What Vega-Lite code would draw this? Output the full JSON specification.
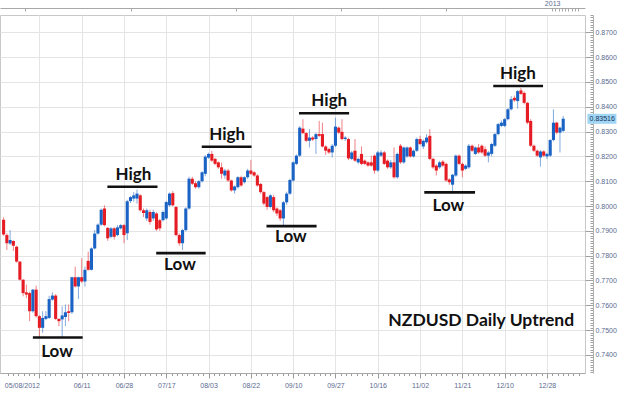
{
  "$schema": "https://vega.github.io/schema/vega-lite/v6.json",
  "width": 585,
  "height": 358,
  "autosize": {"type": "none"},
  "padding": {"left": 0, "top": 15, "right": 39, "bottom": 20},
  "background": "white",
  "config": {"view": {"stroke": "#c8c8c8", "strokeWidth": 1}},
  "datasets": {
    "candles": [
      {"i":0,"o":0.7945,"h":0.7955,"l":0.7880,"c":0.7885},
      {"i":1,"o":0.7883,"h":0.7890,"l":0.7823,"c":0.7850},
      {"i":2,"o":0.7849,"h":0.7903,"l":0.7843,"c":0.7863},
      {"i":3,"o":0.7859,"h":0.7862,"l":0.7819,"c":0.7840},
      {"i":4,"o":0.7836,"h":0.7840,"l":0.7772,"c":0.7776},
      {"i":5,"o":0.7776,"h":0.7778,"l":0.7700,"c":0.7703},
      {"i":6,"o":0.7703,"h":0.7705,"l":0.7636,"c":0.7649},
      {"i":7,"o":0.7652,"h":0.7683,"l":0.7629,"c":0.7643},
      {"i":8,"o":0.7649,"h":0.7655,"l":0.7536,"c":0.7576},
      {"i":9,"o":0.7576,"h":0.7665,"l":0.7570,"c":0.7663},
      {"i":10,"o":0.7663,"h":0.7679,"l":0.7550,"c":0.7556},
      {"i":11,"o":0.7556,"h":0.7560,"l":0.7469,"c":0.7509},
      {"i":12,"o":0.7509,"h":0.7576,"l":0.7489,"c":0.7549},
      {"i":13,"o":0.7545,"h":0.7576,"l":0.7540,"c":0.7556},
      {"i":14,"o":0.7549,"h":0.7638,"l":0.7545,"c":0.7625},
      {"i":15,"o":0.7623,"h":0.7652,"l":0.7618,"c":0.7639},
      {"i":16,"o":0.7639,"h":0.7645,"l":0.7540,"c":0.7545},
      {"i":17,"o":0.7545,"h":0.7548,"l":0.7516,"c":0.7536},
      {"i":18,"o":0.7543,"h":0.7596,"l":0.7469,"c":0.7559},
      {"i":19,"o":0.7553,"h":0.7603,"l":0.7516,"c":0.7572},
      {"i":20,"o":0.7576,"h":0.7603,"l":0.7536,"c":0.7569},
      {"i":21,"o":0.7572,"h":0.7715,"l":0.7565,"c":0.7713},
      {"i":22,"o":0.7713,"h":0.7756,"l":0.7672,"c":0.7676},
      {"i":23,"o":0.7676,"h":0.7716,"l":0.7625,"c":0.7713},
      {"i":24,"o":0.7713,"h":0.7789,"l":0.7690,"c":0.7696},
      {"i":25,"o":0.7696,"h":0.7756,"l":0.7676,"c":0.7743},
      {"i":26,"o":0.7779,"h":0.7816,"l":0.7740,"c":0.7743},
      {"i":27,"o":0.7743,"h":0.7833,"l":0.7740,"c":0.7829},
      {"i":28,"o":0.7829,"h":0.7903,"l":0.7825,"c":0.7889},
      {"i":29,"o":0.7889,"h":0.7930,"l":0.7885,"c":0.7925},
      {"i":30,"o":0.7925,"h":0.7990,"l":0.7920,"c":0.7985},
      {"i":31,"o":0.7990,"h":0.8003,"l":0.7918,"c":0.7923},
      {"i":32,"o":0.7912,"h":0.7915,"l":0.7860,"c":0.7870},
      {"i":33,"o":0.7876,"h":0.7915,"l":0.7870,"c":0.7910},
      {"i":34,"o":0.7910,"h":0.7915,"l":0.7865,"c":0.7876},
      {"i":35,"o":0.7883,"h":0.7923,"l":0.7878,"c":0.7914},
      {"i":36,"o":0.7910,"h":0.7928,"l":0.7905,"c":0.7923},
      {"i":37,"o":0.7923,"h":0.7928,"l":0.7850,"c":0.7883},
      {"i":38,"o":0.7890,"h":0.8025,"l":0.7863,"c":0.8019},
      {"i":39,"o":0.8020,"h":0.8040,"l":0.8012,"c":0.8036},
      {"i":40,"o":0.8030,"h":0.8056,"l":0.8018,"c":0.8043},
      {"i":41,"o":0.8030,"h":0.8066,"l":0.8010,"c":0.8050},
      {"i":42,"o":0.8043,"h":0.8048,"l":0.7978,"c":0.7983},
      {"i":43,"o":0.7983,"h":0.7990,"l":0.7956,"c":0.7972},
      {"i":44,"o":0.7950,"h":0.7990,"l":0.7940,"c":0.7983},
      {"i":45,"o":0.7976,"h":0.7985,"l":0.7925,"c":0.7936},
      {"i":46,"o":0.7950,"h":0.7985,"l":0.7940,"c":0.7976},
      {"i":47,"o":0.7970,"h":0.7975,"l":0.7900,"c":0.7906},
      {"i":48,"o":0.7943,"h":0.7948,"l":0.7900,"c":0.7910},
      {"i":49,"o":0.7943,"h":0.7982,"l":0.7938,"c":0.7976},
      {"i":50,"o":0.7950,"h":0.8020,"l":0.7945,"c":0.8016},
      {"i":51,"o":0.8003,"h":0.8055,"l":0.7998,"c":0.8050},
      {"i":52,"o":0.8052,"h":0.8060,"l":0.7998,"c":0.8003},
      {"i":53,"o":0.7996,"h":0.8000,"l":0.7878,"c":0.7883},
      {"i":54,"o":0.7883,"h":0.7890,"l":0.7840,"c":0.7850},
      {"i":55,"o":0.7850,"h":0.7908,"l":0.7823,"c":0.7903},
      {"i":56,"o":0.7903,"h":0.7995,"l":0.7898,"c":0.7990},
      {"i":57,"o":0.7990,"h":0.8118,"l":0.7985,"c":0.8110},
      {"i":58,"o":0.8110,"h":0.8118,"l":0.8085,"c":0.8090},
      {"i":59,"o":0.8092,"h":0.8100,"l":0.8070,"c":0.8076},
      {"i":60,"o":0.8076,"h":0.8105,"l":0.8070,"c":0.8100},
      {"i":61,"o":0.8100,"h":0.8140,"l":0.8095,"c":0.8136},
      {"i":62,"o":0.8130,"h":0.8205,"l":0.8120,"c":0.8199},
      {"i":63,"o":0.8195,"h":0.8215,"l":0.8190,"c":0.8210},
      {"i":64,"o":0.8210,"h":0.8222,"l":0.8178,"c":0.8183},
      {"i":65,"o":0.8190,"h":0.8195,"l":0.8165,"c":0.8170},
      {"i":66,"o":0.8176,"h":0.8180,"l":0.8150,"c":0.8156},
      {"i":67,"o":0.8156,"h":0.8175,"l":0.8110,"c":0.8130},
      {"i":68,"o":0.8123,"h":0.8150,"l":0.8110,"c":0.8143},
      {"i":69,"o":0.8143,"h":0.8150,"l":0.8098,"c":0.8103},
      {"i":70,"o":0.8103,"h":0.8106,"l":0.8058,"c":0.8063},
      {"i":71,"o":0.8063,"h":0.8083,"l":0.8050,"c":0.8079},
      {"i":72,"o":0.8076,"h":0.8120,"l":0.8070,"c":0.8116},
      {"i":73,"o":0.8116,"h":0.8122,"l":0.8078,"c":0.8083},
      {"i":74,"o":0.8096,"h":0.8120,"l":0.8090,"c":0.8116},
      {"i":75,"o":0.8116,"h":0.8150,"l":0.8110,"c":0.8143},
      {"i":76,"o":0.8143,"h":0.8186,"l":0.8125,"c":0.8130},
      {"i":77,"o":0.8136,"h":0.8140,"l":0.8118,"c":0.8123},
      {"i":78,"o":0.8123,"h":0.8128,"l":0.8078,"c":0.8083},
      {"i":79,"o":0.8089,"h":0.8093,"l":0.8050,"c":0.8056},
      {"i":80,"o":0.8056,"h":0.8060,"l":0.8003,"c":0.8010},
      {"i":81,"o":0.8036,"h":0.8040,"l":0.7985,"c":0.7996},
      {"i":82,"o":0.7996,"h":0.8048,"l":0.7990,"c":0.8043},
      {"i":83,"o":0.8036,"h":0.8045,"l":0.7975,"c":0.7983},
      {"i":84,"o":0.7990,"h":0.7995,"l":0.7960,"c":0.7970},
      {"i":85,"o":0.7983,"h":0.7988,"l":0.7940,"c":0.7950},
      {"i":86,"o":0.7950,"h":0.8020,"l":0.7923,"c":0.8015},
      {"i":87,"o":0.8015,"h":0.8058,"l":0.8005,"c":0.8050},
      {"i":88,"o":0.8050,"h":0.8110,"l":0.8045,"c":0.8105},
      {"i":89,"o":0.8103,"h":0.8180,"l":0.8098,"c":0.8176},
      {"i":90,"o":0.8170,"h":0.8208,"l":0.8165,"c":0.8203},
      {"i":91,"o":0.8203,"h":0.8322,"l":0.8198,"c":0.8316},
      {"i":92,"o":0.8312,"h":0.8350,"l":0.8290,"c":0.8294},
      {"i":93,"o":0.8294,"h":0.8298,"l":0.8258,"c":0.8263},
      {"i":94,"o":0.8263,"h":0.8310,"l":0.8236,"c":0.8276},
      {"i":95,"o":0.8276,"h":0.8282,"l":0.8262,"c":0.8268},
      {"i":96,"o":0.8270,"h":0.8296,"l":0.8210,"c":0.8290},
      {"i":97,"o":0.8290,"h":0.8343,"l":0.8278,"c":0.8283},
      {"i":98,"o":0.8290,"h":0.8336,"l":0.8236,"c":0.8240},
      {"i":99,"o":0.8240,"h":0.8245,"l":0.8206,"c":0.8223},
      {"i":100,"o":0.8230,"h":0.8235,"l":0.8210,"c":0.8216},
      {"i":101,"o":0.8216,"h":0.8250,"l":0.8196,"c":0.8243},
      {"i":102,"o":0.8243,"h":0.8356,"l":0.8238,"c":0.8320},
      {"i":103,"o":0.8316,"h":0.8320,"l":0.8290,"c":0.8296},
      {"i":104,"o":0.8299,"h":0.8350,"l":0.8265,"c":0.8270},
      {"i":105,"o":0.8270,"h":0.8282,"l":0.8262,"c":0.8276},
      {"i":106,"o":0.8270,"h":0.8275,"l":0.8185,"c":0.8192},
      {"i":107,"o":0.8190,"h":0.8222,"l":0.8185,"c":0.8216},
      {"i":108,"o":0.8223,"h":0.8270,"l":0.8178,"c":0.8183},
      {"i":109,"o":0.8176,"h":0.8195,"l":0.8170,"c":0.8190},
      {"i":110,"o":0.8210,"h":0.8240,"l":0.8165,"c":0.8170},
      {"i":111,"o":0.8183,"h":0.8188,"l":0.8165,"c":0.8170},
      {"i":112,"o":0.8176,"h":0.8180,"l":0.8158,"c":0.8163},
      {"i":113,"o":0.8176,"h":0.8203,"l":0.8158,"c":0.8163},
      {"i":114,"o":0.8203,"h":0.8208,"l":0.8130,"c":0.8143},
      {"i":115,"o":0.8143,"h":0.8222,"l":0.8138,"c":0.8216},
      {"i":116,"o":0.8203,"h":0.8225,"l":0.8198,"c":0.8216},
      {"i":117,"o":0.8216,"h":0.8222,"l":0.8165,"c":0.8170},
      {"i":118,"o":0.8183,"h":0.8188,"l":0.8150,"c":0.8156},
      {"i":119,"o":0.8156,"h":0.8185,"l":0.8150,"c":0.8176},
      {"i":120,"o":0.8176,"h":0.8236,"l":0.8110,"c":0.8116},
      {"i":121,"o":0.8116,"h":0.8215,"l":0.8110,"c":0.8210},
      {"i":122,"o":0.8243,"h":0.8250,"l":0.8170,"c":0.8176},
      {"i":123,"o":0.8176,"h":0.8240,"l":0.8170,"c":0.8236},
      {"i":124,"o":0.8200,"h":0.8240,"l":0.8195,"c":0.8236},
      {"i":125,"o":0.8236,"h":0.8240,"l":0.8195,"c":0.8200},
      {"i":126,"o":0.8200,"h":0.8228,"l":0.8195,"c":0.8223},
      {"i":127,"o":0.8223,"h":0.8276,"l":0.8218,"c":0.8270},
      {"i":128,"o":0.8270,"h":0.8283,"l":0.8245,"c":0.8250},
      {"i":129,"o":0.8240,"h":0.8268,"l":0.8230,"c":0.8263},
      {"i":130,"o":0.8257,"h":0.8290,"l":0.8252,"c":0.8276},
      {"i":131,"o":0.8283,"h":0.8310,"l":0.8185,"c":0.8190},
      {"i":132,"o":0.8190,"h":0.8195,"l":0.8150,"c":0.8156},
      {"i":133,"o":0.8163,"h":0.8168,"l":0.8123,"c":0.8143},
      {"i":134,"o":0.8156,"h":0.8182,"l":0.8150,"c":0.8176},
      {"i":135,"o":0.8179,"h":0.8185,"l":0.8158,"c":0.8163},
      {"i":136,"o":0.8170,"h":0.8175,"l":0.8098,"c":0.8103},
      {"i":137,"o":0.8107,"h":0.8112,"l":0.8086,"c":0.8096},
      {"i":138,"o":0.8086,"h":0.8130,"l":0.8050,"c":0.8126},
      {"i":139,"o":0.8123,"h":0.8208,"l":0.8118,"c":0.8203},
      {"i":140,"o":0.8203,"h":0.8208,"l":0.8165,"c":0.8170},
      {"i":141,"o":0.8170,"h":0.8175,"l":0.8116,"c":0.8143},
      {"i":142,"o":0.8150,"h":0.8168,"l":0.8145,"c":0.8163},
      {"i":143,"o":0.8156,"h":0.8250,"l":0.8150,"c":0.8243},
      {"i":144,"o":0.8243,"h":0.8248,"l":0.8218,"c":0.8223},
      {"i":145,"o":0.8210,"h":0.8240,"l":0.8205,"c":0.8236},
      {"i":146,"o":0.8236,"h":0.8250,"l":0.8210,"c":0.8216},
      {"i":147,"o":0.8243,"h":0.8248,"l":0.8210,"c":0.8216},
      {"i":148,"o":0.8229,"h":0.8240,"l":0.8198,"c":0.8203},
      {"i":149,"o":0.8203,"h":0.8222,"l":0.8176,"c":0.8216},
      {"i":150,"o":0.8210,"h":0.8255,"l":0.8200,"c":0.8250},
      {"i":151,"o":0.8243,"h":0.8295,"l":0.8238,"c":0.8290},
      {"i":152,"o":0.8290,"h":0.8335,"l":0.8285,"c":0.8330},
      {"i":153,"o":0.8323,"h":0.8345,"l":0.8318,"c":0.8336},
      {"i":154,"o":0.8323,"h":0.8355,"l":0.8318,"c":0.8350},
      {"i":155,"o":0.8350,"h":0.8395,"l":0.8345,"c":0.8390},
      {"i":156,"o":0.8390,"h":0.8443,"l":0.8385,"c":0.8430},
      {"i":157,"o":0.8436,"h":0.8445,"l":0.8420,"c":0.8426},
      {"i":158,"o":0.8423,"h":0.8468,"l":0.8393,"c":0.8463},
      {"i":159,"o":0.8466,"h":0.8476,"l":0.8448,"c":0.8452},
      {"i":160,"o":0.8456,"h":0.8462,"l":0.8410,"c":0.8416},
      {"i":161,"o":0.8416,"h":0.8420,"l":0.8330,"c":0.8336},
      {"i":162,"o":0.8343,"h":0.8350,"l":0.8238,"c":0.8243},
      {"i":163,"o":0.8243,"h":0.8248,"l":0.8218,"c":0.8223},
      {"i":164,"o":0.8223,"h":0.8228,"l":0.8198,"c":0.8203},
      {"i":165,"o":0.8196,"h":0.8225,"l":0.8159,"c":0.8220},
      {"i":166,"o":0.8220,"h":0.8225,"l":0.8198,"c":0.8203},
      {"i":167,"o":0.8200,"h":0.8215,"l":0.8190,"c":0.8210},
      {"i":168,"o":0.8203,"h":0.8270,"l":0.8198,"c":0.8266},
      {"i":169,"o":0.8266,"h":0.8390,"l":0.8260,"c":0.8336},
      {"i":170,"o":0.8336,"h":0.8340,"l":0.8290,"c":0.8296},
      {"i":171,"o":0.8296,"h":0.8320,"l":0.8216,"c":0.8316},
      {"i":172,"o":0.8303,"h":0.8363,"l":0.8298,"c":0.8352}
    ],
    "lines": [
      {"a":9.0,"b":24.3,"p":0.7470},
      {"a":31.9,"b":47.3,"p":0.8078},
      {"a":46.9,"b":62.1,"p":0.7810},
      {"a":60.9,"b":76.2,"p":0.8239},
      {"a":90.8,"b":106.2,"p":0.8374},
      {"a":80.8,"b":96.2,"p":0.7919},
      {"a":129.3,"b":144.9,"p":0.8055},
      {"a":150.5,"b":165.8,"p":0.8484}
    ],
    "notes": [
      {"t":"Low","x":16.4,"p":0.7392},
      {"t":"High","x":39.9,"p":0.8105},
      {"t":"Low","x":54.2,"p":0.7742},
      {"t":"High","x":68.7,"p":0.8266},
      {"t":"High","x":100.1,"p":0.8403},
      {"t":"Low","x":88.3,"p":0.7857},
      {"t":"Low","x":136.7,"p":0.7980},
      {"t":"High","x":158.1,"p":0.8512}
    ],
    "title": [{"t":"NZDUSD Daily Uptrend","x":146.8,"p":0.7517}],
    "last": [{"v":0.83516}]
  },
  "resolve": {"axis": {"x": "independent", "y": "independent"}},
  "layer": [
    {
      "data": {"name": "candles"},
      "mark": {"type": "rule", "strokeWidth": 1, "opacity": 0.55},
      "encoding": {
        "x": {"field": "i", "type": "quantitative",
          "scale": {"domain": [0.43, 177.16], "nice": false, "zero": false},
          "axis": {"orient": "top", "offset": 7, "grid": false, "title": null,
            "values": [6.7, 39.2, 71.4, 103.7, 136.1, 168.6, 169.6, 170.6, 171.6, 172.6, 173.6, 174.6, 175.6, 176.6],
            "domainColor": "#a8a8a8", "tickColor": "#a8a8a8", "tickSize": -3,
            "labelExpr": "datum.value == 168.6 ? '2013' : ''",
            "labelFont": "Liberation Sans", "labelFontSize": 7, "labelColor": "#5a6a90",
            "labelPadding": 5, "labelFlush": false, "labelOverlap": false}},
        "y": {"field": "l", "type": "quantitative",
          "scale": {"domain": [0.7327, 0.8770], "nice": false, "zero": false},
          "axis": {"orient": "right", "offset": 8, "title": null, "tickCount": 143,
            "grid": true, "gridColor": "#e4e4e4",
            "gridOpacity": {"condition": {"test": "abs(datum.value*100 - round(datum.value*100)) < 0.01", "value": 1}, "value": 0},
            "domainColor": "#b0b0b0", "tickColor": "#a0a0a0",
            "tickSize": {"condition": {"test": "abs(datum.value*100 - round(datum.value*100)) < 0.01", "value": -8}, "value": -3},
            "labelExpr": "abs(datum.value*100 - round(datum.value*100)) < 0.01 ? format(datum.value, '.4f') : ''",
            "labelFont": "Liberation Sans", "labelFontSize": 7, "labelColor": "#5a6a90",
            "labelPadding": 10, "labelOverlap": false, "labelFlush": false}},
        "y2": {"field": "h"},
        "color": {"condition": {"test": "datum.c >= datum.o", "value": "#1a63c5"}, "value": "#e51c23"}
      }
    },
    {
      "data": {"name": "candles"},
      "mark": {"type": "bar", "size": 3.1},
      "encoding": {
        "x": {"field": "i", "type": "quantitative",
          "axis": {"orient": "bottom", "title": null, "grid": true, "gridColor": "#e4e4e4",
            "gridOpacity": {"condition": {"test": "(datum.value - 11) % 13 == 0", "value": 1}, "value": 0},
            "values": [1.25, 2.875, 4.5, 6.125, 7.75, 9.375,
              11, 12.625, 14.25, 15.875, 17.5, 19.125, 20.75, 22.375,
              24, 25.625, 27.25, 28.875, 30.5, 32.125, 33.75, 35.375,
              37, 38.625, 40.25, 41.875, 43.5, 45.125, 46.75, 48.375,
              50, 51.625, 53.25, 54.875, 56.5, 58.125, 59.75, 61.375,
              63, 64.625, 66.25, 67.875, 69.5, 71.125, 72.75, 74.375,
              76, 77.625, 79.25, 80.875, 82.5, 84.125, 85.75, 87.375,
              89, 90.625, 92.25, 93.875, 95.5, 97.125, 98.75, 100.375,
              102, 103.625, 105.25, 106.875, 108.5, 110.125, 111.75, 113.375,
              115, 116.625, 118.25, 119.875, 121.5, 123.125, 124.75, 126.375,
              128, 129.625, 131.25, 132.875, 134.5, 136.125, 137.75, 139.375,
              141, 142.625, 144.25, 145.875, 147.5, 149.125, 150.75, 152.375,
              154, 155.625, 157.25, 158.875, 160.5, 162.125, 163.75, 165.375,
              167, 168.625, 170.25, 171.875, 173.5, 175.125, 176.75],
            "domainColor": "#a8a8a8", "tickColor": "#9a9a9a",
            "tickSize": {"condition": {"test": "(datum.value - 11) % 13 == 0", "value": 5}, "value": 2.5},
            "labelExpr": "(datum.value - 11) % 13 == 0 ? ['05/08/2012','06/11','06/28','07/17','08/03','08/22','09/10','09/27','10/16','11/02','11/21','12/10','12/28'][(datum.value - 11) / 13] : ''",
            "labelAlign": {"condition": {"test": "datum.value == 11", "value": "right"}, "value": "center"},
            "labelFont": "Liberation Sans", "labelFontSize": 7, "labelColor": "#5a6a90",
            "labelPadding": 3, "labelFlush": false, "labelOverlap": false}},
        "y": {"field": "o", "type": "quantitative", "axis": null},
        "y2": {"field": "c"},
        "color": {"condition": {"test": "datum.c >= datum.o", "value": "#1a63c5"}, "value": "#e51c23"}
      }
    },
    {
      "data": {"name": "lines"},
      "mark": {"type": "rule", "strokeWidth": 2.6, "color": "#111111"},
      "encoding": {
        "x": {"field": "a", "type": "quantitative", "axis": null},
        "x2": {"field": "b"},
        "y": {"field": "p", "type": "quantitative", "axis": null}
      }
    },
    {
      "data": {"name": "notes"},
      "mark": {"type": "text", "font": "Lato", "fontWeight": "bold", "fontSize": 17, "color": "#111111", "align": "center", "baseline": "alphabetic"},
      "encoding": {
        "x": {"field": "x", "type": "quantitative", "axis": null},
        "y": {"field": "p", "type": "quantitative", "axis": null},
        "text": {"field": "t"}
      }
    },
    {
      "data": {"name": "title"},
      "mark": {"type": "text", "font": "Lato", "fontWeight": "bold", "fontSize": 17.5, "color": "#111111", "align": "center", "baseline": "alphabetic"},
      "encoding": {
        "x": {"field": "x", "type": "quantitative", "axis": null},
        "y": {"field": "p", "type": "quantitative", "axis": null},
        "text": {"field": "t"}
      }
    },
    {
      "data": {"name": "last"},
      "mark": {"type": "tick", "orient": "horizontal", "size": 29, "thickness": 10, "color": "#9ed6f3", "opacity": 1},
      "encoding": {
        "x": {"datum": 183.9, "type": "quantitative", "axis": null},
        "y": {"field": "v", "type": "quantitative", "axis": null}
      }
    },
    {
      "data": {"name": "last"},
      "mark": {"type": "text", "font": "Liberation Sans", "fontSize": 7, "color": "#1d2f5e", "align": "center", "baseline": "middle"},
      "encoding": {
        "x": {"datum": 184.0, "type": "quantitative", "axis": null},
        "y": {"field": "v", "type": "quantitative", "axis": null},
        "text": {"field": "v", "format": ".5f"}
      }
    }
  ]
}
